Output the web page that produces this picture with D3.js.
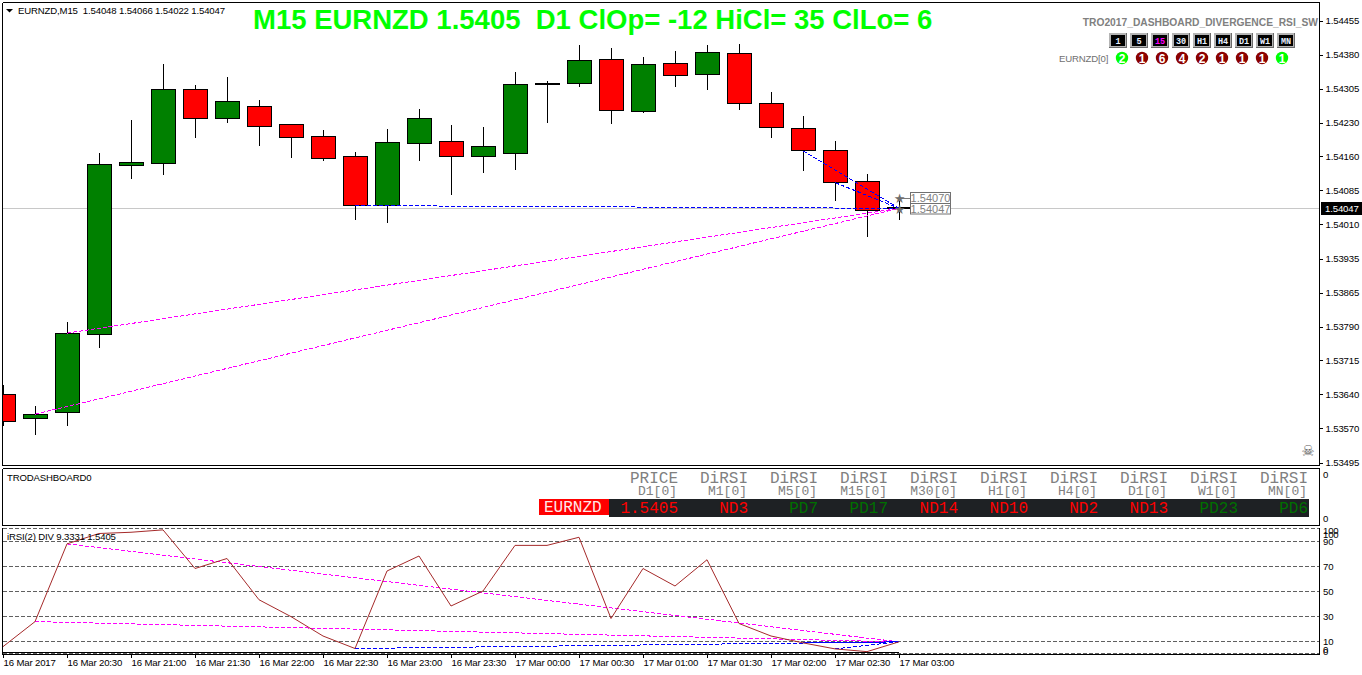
<!DOCTYPE html>
<html><head><meta charset="utf-8">
<style>
html,body{margin:0;padding:0;background:#fff;overflow:hidden}
svg{display:block}
text{white-space:pre}
</style>
<script src="https://cdn.jsdelivr.net/npm/d3@7/dist/d3.min.js"></script>
</head><body>
<svg id="c" width="1362" height="675"></svg>
<script>
const opens  = [1.53642,1.53591,1.53603,1.53774,1.54140,1.54144,1.54306,1.54242,1.54269,1.54230,1.54204,1.54159,1.54053,1.54188,1.54193,1.54159,1.54167,1.54317,1.54318,1.54371,1.54257,1.54362,1.54337,1.54384,1.54275,1.54221,1.54173,1.54106,1.54048];
const highs  = [1.53663,1.53618,1.53800,1.54167,1.54239,1.54361,1.54315,1.54332,1.54282,1.54230,1.54217,1.54169,1.54219,1.54263,1.54228,1.54223,1.54343,1.54324,1.54402,1.54395,1.54376,1.54389,1.54402,1.54404,1.54300,1.54248,1.54193,1.54122,1.54066];
const lows   = [1.53574,1.53555,1.53574,1.53744,1.54111,1.54119,1.54200,1.54232,1.54182,1.54156,1.54150,1.54022,1.54015,1.54150,1.54076,1.54124,1.54130,1.54232,1.54311,1.54230,1.54255,1.54311,1.54304,1.54261,1.54200,1.54128,1.54063,1.53985,1.54022];
const closes = [1.53584,1.53600,1.53776,1.54143,1.54146,1.54306,1.54243,1.54280,1.54225,1.54201,1.54155,1.54053,1.54191,1.54243,1.54159,1.54182,1.54316,1.54318,1.54369,1.54259,1.54360,1.54335,1.54386,1.54274,1.54222,1.54172,1.54103,1.54043,1.54047];
const rsiValues = [5.5,25.5,87.7,96,97,98.9,68,76,43,29.5,14,4,66,78,38,50,86.5,86.5,93,28,68,54,75,24,14,8.5,3.7,1.5,9.33];
const priceTicks  = [1.54455,1.54381,1.54307,1.54233,1.54160,1.54086,1.54012,1.53938,1.53864,1.53790,1.53717,1.53643,1.53569,1.53495];
const priceLabels = ["1.54455","1.54380","1.54305","1.54230","1.54160","1.54085","1.54010","1.53935","1.53865","1.53790","1.53715","1.53640","1.53570","1.53495"];
const timeIndex  = [0,2,4,6,8,10,12,14,16,18,20,22,24,26,28];
const timeLabels = ["16 Mar 2017","16 Mar 20:30","16 Mar 21:00","16 Mar 21:30","16 Mar 22:00","16 Mar 22:30","16 Mar 23:00","16 Mar 23:30","17 Mar 00:00","17 Mar 00:30","17 Mar 01:00","17 Mar 01:30","17 Mar 02:00","17 Mar 02:30","17 Mar 03:00"];
const rsiLevels = [100,90,70,50,30,10,0];
const priceMagenta = [[1,1.53600,28,1.54047],[2,1.53776,28,1.54047]];
const priceBlue    = [[11,1.54053,28,1.54047],[25,1.54172,28,1.54047],[26,1.54103,28,1.54047]];
const rsiMagenta = [[1,25.5,28,9.33],[2,87.7,28,9.33]];
const rsiBlue    = [[11,4,28,9.33],[25,8.5,28,9.33],[26,3.7,28,9.33]];
const tfButtons = ["1","5","15","30","H1","H4","D1","W1","MN"];
const tfCounts  = [2,1,6,4,2,1,1,1,1];
const tfUp      = [true,false,false,false,false,false,false,false,true];
const dashHead1 = ["PRICE","DiRSI","DiRSI","DiRSI","DiRSI","DiRSI","DiRSI","DiRSI","DiRSI","DiRSI"];
const dashHead2 = ["D1[0]","M1[0]","M5[0]","M15[0]","M30[0]","H1[0]","H4[0]","D1[0]","W1[0]","MN[0]"];
const dashVals  = ["1.5405","ND3","PD7","PD17","ND14","ND10","ND2","ND13","PD23","PD6"];
const lastPrice = 1.54047, markers = [1.54070,1.54047];

const svg = d3.select("#c");
const SANS = "'Liberation Sans',Arial,sans-serif", MONO = "'Liberation Mono','Courier New',monospace";
const SMALL = 9.6;
const x = d3.scaleLinear().domain([0,28]).range([3,899]);
const y = d3.scaleLinear().domain([1.53495,1.54455]).range([462.5,20.5]);
const ry = d3.scaleLinear().domain([0,100]).range([653.5,528.5]);
const snap = v => Math.round(v-0.5)+0.5;
const col = d3.scaleLinear().domain([0,9]).range([678,1308]);

svg.append("defs").append("clipPath").attr("id","plot").append("rect").attr("x",3).attr("y",3).attr("width",1316).attr("height",462);
svg.append("defs").append("clipPath").attr("id","rsiclip").append("rect").attr("x",3).attr("y",526).attr("width",1316).attr("height",128);

// current price line
svg.append("line").attr("x1",3).attr("x2",1319).attr("y1",snap(y(lastPrice))).attr("y2",snap(y(lastPrice))).attr("stroke","#c8c8c8");

// candles
const idx = d3.range(opens.length);
const gc = svg.append("g").attr("clip-path","url(#plot)").attr("shape-rendering","crispEdges");
gc.selectAll("line.w").data(idx).join("line").attr("class","w")
  .attr("x1",i=>x(i)+.5).attr("x2",i=>x(i)+.5)
  .attr("y1",i=>Math.round(y(highs[i]))).attr("y2",i=>Math.round(y(lows[i])))
  .attr("stroke","#000");
const isDoji = i => Math.abs(opens[i]-closes[i])<0.00003;
gc.selectAll("rect.b").data(idx.filter(i=>!isDoji(i))).join("rect").attr("class","b")
  .attr("x",i=>x(i)-12+.5).attr("width",24)
  .attr("y",i=>snap(y(Math.max(opens[i],closes[i]))))
  .attr("height",i=>Math.max(1,snap(y(Math.min(opens[i],closes[i])))-snap(y(Math.max(opens[i],closes[i])))))
  .attr("fill",i=>closes[i]>=opens[i]?"#008000":"#ff0000").attr("stroke","#000");
gc.selectAll("rect.d").data(idx.filter(isDoji)).join("rect").attr("class","d")
  .attr("x",i=>x(i)-12).attr("width",25)
  .attr("y",i=>Math.round(y(closes[i]))-1).attr("height",2).attr("fill","#000");

// divergence lines
function seg(g,rows,yScale,color){
  g.selectAll(null).data(rows).join("line")
   .attr("x1",d=>x(d[0])).attr("y1",d=>yScale(d[1])).attr("x2",d=>x(d[2])).attr("y2",d=>yScale(d[3]))
   .attr("stroke",color).attr("stroke-width",1).attr("stroke-dasharray","4 2").attr("shape-rendering","crispEdges");
}
const gd = svg.append("g").attr("clip-path","url(#plot)");
seg(gd,priceMagenta,y,"#ff00ff");
seg(gd,priceBlue,y,"#0000ff");

// markers
const gm = svg.append("g");
gm.append("line").attr("x1",899).attr("x2",910).attr("y1",198.5).attr("y2",198.5).attr("stroke","#777");
markers.forEach((m,i)=>{
  const yy = i===0?198:209;
  gm.append("text").attr("x",899.5).attr("y",yy+4.5).attr("text-anchor","middle").attr("font-family","'DejaVu Sans'").attr("font-size",13).attr("fill","#6e6e6e").text("★");
  gm.append("rect").attr("x",910.5).attr("y",i===0?192.5:203.5).attr("width",40).attr("height",i===0?11:10.5).attr("fill","#fff").attr("stroke","#707070");
  gm.append("text").attr("x",930.5).attr("y",i===0?202:213).attr("text-anchor","middle").attr("font-family",SANS).attr("font-size",11).attr("fill","#808080").text(m.toFixed(5));
});

// panel frames
const frame = svg.append("g").attr("stroke","#000").attr("shape-rendering","crispEdges");
[[2.5,2.5,1319.5,2.5],[2.5,465.5,1319.5,465.5],[2.5,468.5,1319.5,468.5],[2.5,525.5,1319.5,525.5],[2.5,654.5,1319.5,654.5],
 [2.5,2.5,2.5,465.5],[2.5,468.5,2.5,525.5],[2.5,528,2.5,654.5],[1319.5,2.5,1319.5,465.5],[1319.5,468.5,1319.5,525.5],[1319.5,528,1319.5,654.5]]
 .forEach(l=>frame.append("line").attr("x1",l[0]).attr("y1",l[1]).attr("x2",l[2]).attr("y2",l[3]));

// price axis
const axP = svg.append("g").attr("transform","translate(1319.5,0)")
  .call(d3.axisRight(y).tickValues(priceTicks).tickSize(3).tickPadding(3).tickFormat((d,i)=>priceLabels[i]));
axP.select(".domain").remove();
axP.selectAll("text").attr("font-family",SANS).attr("font-size",SMALL).attr("fill","#000");
axP.selectAll("line").attr("stroke","#000").attr("shape-rendering","crispEdges");

// price tag
svg.append("rect").attr("x",1321).attr("y",202).attr("width",41).attr("height",13).attr("fill","#000");
svg.append("text").attr("x",1325).attr("y",212).attr("font-family",SANS).attr("font-size",SMALL).attr("fill","#fff").text(lastPrice.toFixed(5));

// headers
svg.append("path").attr("d","M6,9 L13,9 L9.5,12.5 Z").attr("fill","#000");
svg.append("text").attr("x",18).attr("y",14).attr("font-family",SANS).attr("font-size",SMALL).attr("fill","#000")
  .text(`EURNZD,M15  ${opens[28].toFixed(5)} ${highs[28].toFixed(5)} ${lows[28].toFixed(5)} ${closes[28].toFixed(5)}`);
svg.append("text").attr("x",253).attr("y",29).attr("font-family",SANS).attr("font-weight","bold").attr("font-size",27.5).attr("fill","#00ff00")
  .text("M15 EURNZD 1.5405  D1 ClOp= -12 HiCl= 35 ClLo= 6");
svg.append("text").attr("x",1318).attr("y",26).attr("text-anchor","end").attr("font-family",SANS).attr("font-weight","bold").attr("font-size",10.25).attr("fill","#808080")
  .text("TRO2017_DASHBOARD_DIVERGENCE_RSI_SW");

// timeframe buttons
const bx = d3.scaleLinear().domain([0,8]).range([1109,1277]);
const gb = svg.append("g").attr("shape-rendering","crispEdges");
tfButtons.forEach((t,i)=>{
  const X=bx(i);
  gb.append("rect").attr("x",X).attr("y",33).attr("width",18).attr("height",15).attr("fill","#6a6a6a");
  gb.append("rect").attr("x",X).attr("y",33).attr("width",17).attr("height",14).attr("fill","#b4b4b4");
  gb.append("rect").attr("x",X+2).attr("y",35).attr("width",14).attr("height",11).attr("fill","#000");
  svg.append("text").attr("x",X+9).attr("y",44).attr("text-anchor","middle").attr("font-family",MONO).attr("font-weight","bold").attr("font-size",8.5)
    .attr("fill",t==="15"?"#ff00ff":"#e8f0ff").text(t);
});

// timeframe circles
const cxs = d3.scaleLinear().domain([0,8]).range([1122,1282]);
svg.append("text").attr("x",1059).attr("y",62).attr("font-family",SANS).attr("font-size",SMALL).attr("fill","#707070").text("EURNZD[0]");
tfCounts.forEach((n,i)=>{
  svg.append("circle").attr("cx",cxs(i)).attr("cy",58).attr("r",6.2).attr("fill",tfUp[i]?"#00ff00":"#8b0000");
  svg.append("text").attr("x",cxs(i)).attr("y",62.5).attr("text-anchor","middle").attr("font-family",SANS).attr("font-weight","bold").attr("font-size",12).attr("fill","#fff").text(n);
});

// skull
svg.append("text").attr("x",1308).attr("y",456).attr("text-anchor","middle").attr("font-family","'DejaVu Sans'").attr("font-size",15).attr("fill","#5e5e5e").text("☠");

// dashboard panel
svg.append("text").attr("x",7).attr("y",481).attr("font-family",SANS).attr("font-size",SMALL).attr("fill","#000").text("TRODASHBOARD0");
[[474],[518]].forEach(a=>svg.append("text").attr("x",1323).attr("y",a[0]+3.5).attr("font-family",SANS).attr("font-size",SMALL).attr("fill","#000").text("0"));
svg.append("rect").attr("x",609).attr("y",499).attr("width",700).attr("height",18).attr("fill","#1e2124");
svg.append("rect").attr("x",539).attr("y",499).attr("width",70).attr("height",16).attr("fill","#ff0000");
svg.append("text").attr("x",544).attr("y",512).attr("font-family",MONO).attr("font-size",16).attr("fill","#ffe8e8").text("EURNZD");
dashHead1.forEach((t,i)=>svg.append("text").attr("x",col(i)).attr("y",483).attr("text-anchor","end").attr("font-family",MONO).attr("font-size",16).attr("fill","#808080").text(t));
dashHead2.forEach((t,i)=>svg.append("text").attr("x",col(i)-1).attr("y",495).attr("text-anchor","end").attr("font-family",MONO).attr("font-size",13).attr("fill","#808080").text(t));
dashVals.forEach((t,i)=>svg.append("text").attr("x",col(i)).attr("y",513).attr("text-anchor","end").attr("font-family",MONO).attr("font-size",16)
  .attr("fill",t.startsWith("PD")?"#007000":"#ff0000").text(t));

// RSI panel
const gl = svg.append("g").attr("shape-rendering","crispEdges");
gl.selectAll("line").data(rsiLevels).join("line").attr("x1",3).attr("x2",1319).attr("y1",d=>snap(ry(d))).attr("y2",d=>snap(ry(d)))
  .attr("stroke","#606060").attr("stroke-dasharray","4 2");
svg.append("line").attr("x1",3).attr("x2",x(28)).attr("y1",652.5).attr("y2",652.5).attr("stroke","#000").attr("shape-rendering","crispEdges");
const gr = svg.append("g").attr("clip-path","url(#rsiclip)");
seg(gr,rsiMagenta,ry,"#ff00ff");
seg(gr,rsiBlue,ry,"#0000ff");
gr.append("path").attr("d",d3.line().x((d,i)=>x(i)).y(d=>ry(d))(rsiValues)).attr("fill","none").attr("stroke","#a52a2a").attr("stroke-width",1);
svg.append("text").attr("x",7).attr("y",540).attr("font-family",SANS).attr("font-size",SMALL).attr("fill","#000").text("iRSI(2) DIV 9.3331 1.5405");
const rsiAxisLabels = [["100",530],["100",534],["90",541.5],["70",566.5],["50",591.5],["30",616.5],["10",641],["0",649],["0",651]];
rsiAxisLabels.forEach(d=>svg.append("text").attr("x",1323).attr("y",d[1]+3.5).attr("font-family",SANS).attr("font-size",SMALL).attr("fill","#000").text(d[0]));

// time axis
const axT = svg.append("g").attr("transform","translate(0,654.5)")
  .call(d3.axisBottom(x).tickValues(timeIndex).tickSize(3).tickPadding(2).tickFormat((d,i)=>timeLabels[i]));
axT.select(".domain").remove();
axT.selectAll("text").attr("text-anchor","start").attr("x",0).attr("font-family",SANS).attr("font-size",SMALL).attr("fill","#000");
axT.selectAll("line").attr("stroke","#000").attr("shape-rendering","crispEdges");

svg.selectAll("text").filter(function(){return +this.getAttribute("font-size")===SMALL;}).attr("letter-spacing",-0.15);
</script>
</body></html>
